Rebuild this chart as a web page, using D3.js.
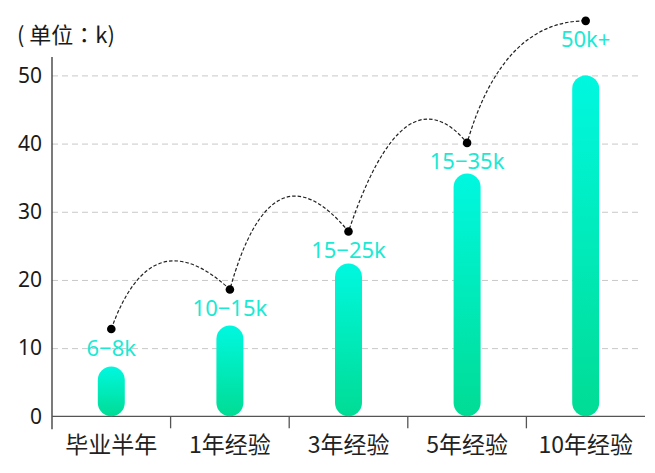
<!DOCTYPE html>
<html>
<head>
<meta charset="utf-8">
<script src="https://cdn.jsdelivr.net/npm/d3@7"></script>
<style>
  html, body { margin: 0; padding: 0; background: #fff; }
  svg { display: block; }
</style>
</head>
<body>
<svg id="chart" width="655" height="473"></svg>
<script>
const categories = ["毕业半年", "1年经验", "3年经验", "5年经验", "10年经验"];
const barValues = [7.3, 13.3, 22.4, 35.6, 50];
const pointValues = [12.8, 18.6, 27.1, 40.1, 58.0];
const pointLabels = ["6−8k", "10−15k", "15−25k", "15−35k", "50k+"];
const arcPeakValues = [22.8, 32.3, 43.6, 58.0];
const arcPeakAt = [0.53, 0.55, 0.67, 1.0];
const yTicks = [0, 10, 20, 30, 40, 50];
const yMax = 52.7;
const unitLabel = "( 单位：k)";

const W = 655, H = 473;
const margin = { top: 57, right: 10, bottom: 56.7, left: 52 };
const svg = d3.select("#chart");

const x = d3.scaleBand().domain(categories).range([margin.left, W - margin.right]).padding(0);
const y = d3.scaleLinear().domain([0, yMax]).range([H - margin.bottom, margin.top]);
const cx = d => x(d) + x.bandwidth() / 2;

const defs = svg.append("defs");
const grad = defs.append("linearGradient").attr("id", "barGrad")
  .attr("x1", 0).attr("y1", 0).attr("x2", 0).attr("y2", 1);
grad.append("stop").attr("offset", "0%").attr("stop-color", "#00F8E0");
grad.append("stop").attr("offset", "100%").attr("stop-color", "#00DC94");

// gridlines
const grid = svg.append("g").attr("transform", `translate(${margin.left},0)`)
  .call(d3.axisLeft(y).tickValues(yTicks.filter(v => v > 0)).tickSize(-(W - margin.left - margin.right - 3)).tickFormat(""));
grid.select(".domain").remove();
grid.selectAll(".tick line").attr("stroke", "#c8c8c8").attr("stroke-width", 1).attr("stroke-dasharray", "6,4");

// y axis labels
const yAx = svg.append("g").attr("transform", `translate(${margin.left},0)`)
  .call(d3.axisLeft(y).tickValues(yTicks).tickSize(0).tickPadding(10));
yAx.select(".domain").remove();
yAx.selectAll(".tick text").attr("font-family", "'Noto Sans', 'Noto Sans CJK SC', sans-serif")
  .attr("font-size", 21).attr("fill", "#1a1a1a");

// x axis labels
const xAx = svg.append("g").attr("transform", `translate(0,${y(0)})`)
  .call(d3.axisBottom(x).tickSize(0).tickPadding(19));
xAx.select(".domain").remove();
xAx.selectAll(".tick text").attr("font-family", "'Noto Sans CJK SC', sans-serif")
  .attr("font-size", 23).attr("fill", "#222").attr("dy", "0.75em");

// axis lines
svg.append("line").attr("x1", margin.left).attr("x2", margin.left)
  .attr("y1", y(yMax)).attr("y2", y(0) + 13).attr("stroke", "#333").attr("stroke-width", 1.3);
svg.append("line").attr("x1", margin.left).attr("x2", W - margin.right)
  .attr("y1", y(0)).attr("y2", y(0)).attr("stroke", "#555").attr("stroke-width", 1.3);
svg.append("g").selectAll("line").data(categories.slice(1)).join("line")
  .attr("x1", d => x(d)).attr("x2", d => x(d))
  .attr("y1", y(0)).attr("y2", y(0) + 12).attr("stroke", "#555").attr("stroke-width", 1.3);

// bars
const bw = 27;
svg.append("g").selectAll("rect").data(categories).join("rect")
  .attr("x", d => cx(d) - bw / 2)
  .attr("y", (d, i) => y(barValues[i]))
  .attr("width", bw)
  .attr("height", (d, i) => y(0) - y(barValues[i]))
  .attr("rx", bw / 2).attr("ry", bw / 2)
  .attr("fill", "url(#barGrad)");

// arcs
const pts = categories.map((d, i) => [cx(d), y(pointValues[i])]);
const path = d3.path();
path.moveTo(pts[0][0], pts[0][1]);
for (let i = 0; i < pts.length - 1; i++) {
  const [x0, y0] = pts[i], [x2, y2] = pts[i + 1];
  const p = y(arcPeakValues[i]);
  const A = Math.max(y0 - p, 0), B = Math.max(y2 - p, 0);
  const dd = Math.sqrt(A * B);
  const c = p - dd;
  const a = A + dd, b = B + dd;
  const t = (a + b) > 0 ? a / (a + b) : 0.5;
  const denom = 2 * t * (1 - t);
  const px = x0 + arcPeakAt[i] * (x2 - x0);
  const ctrlX = denom > 0.05 ? (px - (1 - t) * (1 - t) * x0 - t * t * x2) / denom : x0 + 0.3 * (x2 - x0);
  path.quadraticCurveTo(ctrlX, c, x2, y2);
}
svg.append("path").attr("d", path.toString()).attr("fill", "none")
  .attr("stroke", "#222").attr("stroke-width", 1.2).attr("stroke-dasharray", "3.5,2");

// dots
svg.append("g").selectAll("circle").data(pts).join("circle")
  .attr("cx", d => d[0]).attr("cy", d => d[1]).attr("r", 4.3).attr("fill", "#000");

// point labels
svg.append("g").selectAll("text").data(categories).join("text")
  .attr("x", d => cx(d)).attr("y", (d, i) => y(pointValues[i]) + 26.5)
  .attr("text-anchor", "middle")
  .attr("font-family", "'Noto Sans', sans-serif").attr("font-size", 22)
  .attr("fill", "#1BE9D3")
  .text((d, i) => pointLabels[i]);

// unit label
svg.append("text").attr("x", 17).attr("y", 43)
  .attr("font-family", "'Noto Sans CJK TC', 'Noto Sans CJK SC', sans-serif").attr("font-size", 22).attr("fill", "#1a1a1a")
  .text(unitLabel);
</script>
</body>
</html>
